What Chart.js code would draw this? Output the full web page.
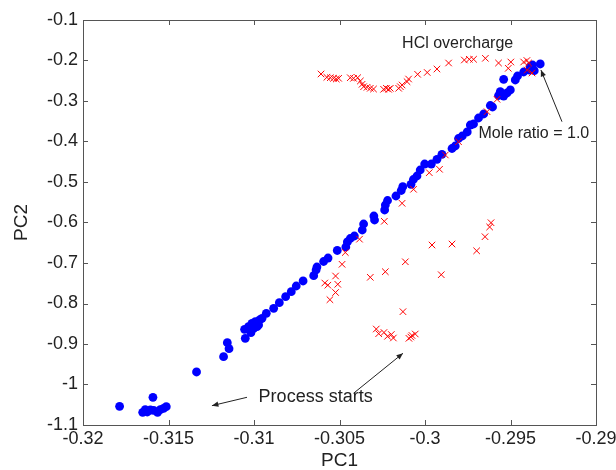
<!DOCTYPE html>
<html>
<head>
<meta charset="utf-8">
<script src="https://cdn.jsdelivr.net/npm/chart.js@4.4.1/dist/chart.umd.min.js"></script>
<style>
  html, body { margin: 0; padding: 0; background: #fff; }
  #wrap { width: 616px; height: 470px; }
</style>
</head>
<body>
<div id="wrap"><canvas id="pcaChart" width="616" height="470"></canvas></div>
<script>
// blue points (PC1, PC2)
const blueX = [-0.31786,-0.31591,-0.31651,-0.31636,-0.31624,-0.31606,-0.31587,-0.31564,-0.31548,-0.31529,-0.31513,
  -0.31336,-0.31178,-0.31156,-0.31146,-0.31051,
  -0.31055,-0.31032,-0.31018,-0.31012,-0.31002,-0.30992,-0.30982,-0.30967,-0.30953,-0.30973,-0.31002,
  -0.30928,-0.30885,-0.30852,-0.30815,-0.30782,-0.30753,-0.30713,-0.30651,-0.30637,-0.30632,-0.30593,-0.30567,-0.30513,
  -0.30463,-0.30454,-0.30437,-0.30413,-0.30367,-0.30359,-0.30299,-0.30295,-0.30236,-0.30232,
  -0.30219,-0.30170,-0.30139,-0.30130,-0.30082,-0.30068,-0.30047,-0.30028,-0.30002,-0.29963,
  -0.29930,-0.29901,-0.29842,-0.29823,-0.29804,-0.29782,-0.29753,-0.29735,-0.29716,-0.29687,
  -0.29657,-0.29618,-0.29605,-0.29570,-0.29560,-0.29540,-0.29520,-0.29501,-0.29540,-0.29472,
  -0.29459,-0.29423,-0.29388,-0.29384,-0.29371,-0.29361,-0.29326];
const blueY = [-1.0538,-1.0316,-1.0686,-1.0622,-1.0679,-1.0630,-1.0637,-1.0686,-1.0622,-1.0588,-1.0548,
  -0.9691,-0.9314,-0.8968,-0.9116,-0.8859,
  -0.8637,-0.8573,-0.8721,-0.8489,-0.8531,-0.8449,-0.8573,-0.8407,-0.8365,-0.8531,-0.8612,
  -0.8242,-0.8119,-0.7980,-0.7832,-0.7709,-0.7568,-0.7444,-0.7314,-0.7173,-0.7099,-0.6963,-0.6877,-0.6691,
  -0.6605,-0.6481,-0.6395,-0.6333,-0.6185,-0.6037,-0.5840,-0.5938,-0.5691,-0.5568,
  -0.5457,-0.5346,-0.5210,-0.5116,-0.5057,-0.4938,-0.4852,-0.4704,-0.4556,-0.4556,
  -0.4440,-0.4316,-0.4173,-0.4111,-0.3926,-0.3864,-0.3765,-0.3593,-0.3568,-0.3420,
  -0.3321,-0.3111,-0.3148,-0.2864,-0.2770,-0.2877,-0.2802,-0.2728,-0.2464,-0.2481,
  -0.2383,-0.2284,-0.2235,-0.2153,-0.2111,-0.2252,-0.2086];

// red crosses (PC1, PC2)
const redX = [-0.30608,-0.30574,-0.30554,-0.30535,-0.30519,-0.30505,-0.30437,-0.30418,-0.30394,-0.30378,
  -0.30368,-0.30359,-0.30339,-0.30320,-0.30301,-0.30242,-0.30226,-0.30213,-0.30203,-0.30154,
  -0.30144,-0.30134,-0.30105,-0.30096,-0.30043,-0.29987,-0.29930,-0.29862,-0.29770,-0.29741,
  -0.29716,-0.29647,-0.29570,-0.29513,-0.29498,-0.29423,-0.29404,-0.29394,-0.29374,-0.29402,
  -0.29637,-0.29579,-0.29804,-0.29881,-0.29975,-0.29915,-0.30067,-0.30134,-0.30238,-0.30383,
  -0.30466,-0.30485,-0.30523,-0.30510,-0.30523,-0.30556,-0.30586,-0.30568,-0.30320,-0.30232,
  -0.30115,-0.29959,-0.29842,-0.29905,-0.29698,-0.29649,-0.29622,-0.29614,
  -0.30129,-0.30285,-0.30271,-0.30240,-0.30219,-0.30197,-0.30185,-0.30094,-0.30083,-0.30076,-0.30057];
const redY = [-0.2333,-0.2415,-0.2425,-0.2440,-0.2457,-0.2440,-0.2425,-0.2440,-0.2425,-0.2506,
  -0.2588,-0.2647,-0.2662,-0.2686,-0.2704,-0.2711,-0.2686,-0.2711,-0.2686,-0.2686,
  -0.2647,-0.2605,-0.2523,-0.2457,-0.2341,-0.2296,-0.2210,-0.2062,-0.1988,-0.1970,
  -0.1970,-0.1946,-0.2062,-0.2193,-0.2037,-0.2037,-0.2000,-0.2062,-0.2309,-0.2235,
  -0.3264,-0.2958,-0.4005,-0.4333,-0.4770,-0.4686,-0.5180,-0.5526,-0.5970,-0.6412,
  -0.6741,-0.7032,-0.7321,-0.7526,-0.7728,-0.7906,-0.7494,-0.7548,-0.7353,-0.7215,
  -0.6970,-0.6556,-0.6531,-0.7289,-0.6699,-0.6351,-0.6111,-0.6005,
  -0.8202,-0.8630,-0.8746,-0.8716,-0.8810,-0.8765,-0.8852,-0.8860,-0.8827,-0.8790,-0.8753];

// axis ticks
const xTicks = [-0.32, -0.315, -0.31, -0.305, -0.3, -0.295, -0.29];
const yTicks = [-1.1, -1, -0.9, -0.8, -0.7, -0.6, -0.5, -0.4, -0.3, -0.2, -0.1];

// notes and arrows, in data units
const notes = [
  { text: 'HCl overcharge', x: -0.30134, y: -0.1576, size: 16 },
  { text: 'Mole ratio = 1.0', x: -0.29687, y: -0.3815, size: 16 },
  { text: 'Process starts', x: -0.30973, y: -1.0316, size: 18 }
];
const arrows = [
  { from: [-0.29199, -0.3511], to: [-0.29322, -0.2235] },
  { from: [-0.31041, -1.0316], to: [-0.31246, -1.0523] },
  { from: [-0.30418, -1.0217], to: [-0.30129, -0.9230] }
];

const FONT = '"Liberation Sans", Arial, sans-serif';
const TEXT = '#222';
const AXIS = '#555';

function toPoints(xs, ys) {
  const n = Math.min(xs.length, ys.length);
  const pts = [];
  for (let i = 0; i < n; i++) pts.push({ x: xs[i], y: ys[i] });
  return pts;
}

function fmt(v) {
  return String(Number(v.toFixed(4)));
}

// frame with inward ticks (matlab style)
const framePlugin = {
  id: 'frame',
  beforeDatasetsDraw(chart) {
    const { ctx, chartArea: a, scales } = chart;
    ctx.save();
    ctx.strokeStyle = AXIS;
    ctx.lineWidth = 1;
    ctx.strokeRect(a.left + 0.5, a.top + 0.5, a.right - a.left, a.bottom - a.top);
    ctx.beginPath();
    const len = 5;
    xTicks.forEach(v => {
      const px = Math.round(scales.x.getPixelForValue(v)) + 0.5;
      ctx.moveTo(px, a.bottom); ctx.lineTo(px, a.bottom - len);
      ctx.moveTo(px, a.top); ctx.lineTo(px, a.top + len);
    });
    yTicks.forEach(v => {
      const py = Math.round(scales.y.getPixelForValue(v)) + 0.5;
      ctx.moveTo(a.left, py); ctx.lineTo(a.left + len, py);
      ctx.moveTo(a.right, py); ctx.lineTo(a.right - len, py);
    });
    ctx.stroke();
    ctx.restore();
  }
};

// text notes and arrows
const notePlugin = {
  id: 'notes',
  afterDraw(chart) {
    const { ctx, scales } = chart;
    ctx.save();
    ctx.fillStyle = TEXT;
    ctx.textBaseline = 'middle';
    ctx.textAlign = 'left';
    notes.forEach(n => {
      ctx.font = n.size + 'px ' + FONT;
      ctx.fillText(n.text, scales.x.getPixelForValue(n.x), scales.y.getPixelForValue(n.y));
    });
    ctx.strokeStyle = TEXT;
    ctx.lineWidth = 1;
    arrows.forEach(a => {
      const x1 = scales.x.getPixelForValue(a.from[0]), y1 = scales.y.getPixelForValue(a.from[1]);
      const x2 = scales.x.getPixelForValue(a.to[0]), y2 = scales.y.getPixelForValue(a.to[1]);
      const ang = Math.atan2(y2 - y1, x2 - x1);
      ctx.beginPath();
      ctx.moveTo(x1, y1); ctx.lineTo(x2, y2);
      ctx.stroke();
      const h = 7, w = 0.4;
      ctx.beginPath();
      ctx.moveTo(x2, y2);
      ctx.lineTo(x2 - h * Math.cos(ang - w), y2 - h * Math.sin(ang - w));
      ctx.lineTo(x2 - h * Math.cos(ang + w), y2 - h * Math.sin(ang + w));
      ctx.closePath();
      ctx.fill();
    });
    ctx.restore();
  }
};

const ctx = document.getElementById('pcaChart').getContext('2d');
new Chart(ctx, {
  type: 'scatter',
  data: {
    datasets: [
      {
        label: 'red',
        data: toPoints(redX, redY),
        pointStyle: 'crossRot',
        pointRadius: 4.6,
        borderColor: '#ff0000',
        backgroundColor: '#ff0000',
        pointBorderWidth: 1
      },
      {
        label: 'blue',
        data: toPoints(blueX, blueY),
        pointStyle: 'circle',
        pointRadius: 4.4,
        backgroundColor: '#0000ff',
        borderColor: '#0000ff',
        pointBorderWidth: 0
      }
    ]
  },
  options: {
    responsive: false,
    animation: false,
    layout: { padding: { left: 0, right: 20, top: 20, bottom: 0 } },
    plugins: { legend: { display: false }, tooltip: { enabled: false } },
    scales: {
      x: {
        type: 'linear', min: -0.32, max: -0.29,
        grid: { display: false, drawTicks: false }, border: { display: false },
        afterBuildTicks: s => { s.ticks = xTicks.map(v => ({ value: v })); },
        afterFit: s => { s.height = 45; s.paddingLeft = 0; s.paddingRight = 0; },
        ticks: { autoSkip: false, maxRotation: 0, padding: 3, color: TEXT,
                 font: { family: FONT, size: 18 }, callback: v => fmt(v) },
        title: { display: true, text: 'PC1', color: TEXT,
                 font: { family: FONT, size: 19, lineHeight: 1 }, padding: 0 }
      },
      y: {
        type: 'linear', min: -1.1, max: -0.1,
        grid: { display: false, drawTicks: false }, border: { display: false },
        afterBuildTicks: s => { s.ticks = yTicks.map(v => ({ value: v })); },
        afterFit: s => { s.width = 83; s.paddingTop = 0; s.paddingBottom = 0; },
        ticks: { autoSkip: false, padding: 5, color: TEXT,
                 font: { family: FONT, size: 18 }, callback: v => fmt(v) },
        title: { display: true, text: 'PC2', color: TEXT,
                 font: { family: FONT, size: 19, lineHeight: 1.2 }, padding: { top: 10, bottom: 0 } }
      }
    }
  },
  plugins: [framePlugin, notePlugin]
});
</script>
</body>
</html>
